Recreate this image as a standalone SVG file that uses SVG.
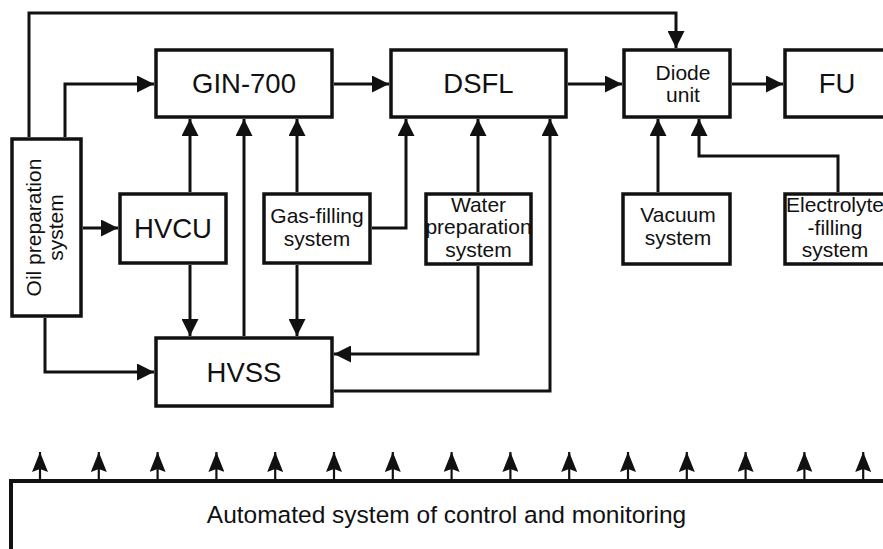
<svg xmlns="http://www.w3.org/2000/svg" width="883" height="549" viewBox="0 0 883 549">
<style>
.box{fill:#fff;stroke:#111;stroke-width:3.5}
.big{font-family:"Liberation Sans",Arial,sans-serif;font-size:27.5px;fill:#111;text-anchor:middle}
.sm{font-family:"Liberation Sans",Arial,sans-serif;font-size:21px;fill:#111;text-anchor:middle}
.con{fill:none;stroke:#111;stroke-width:3;marker-end:url(#ah)}
.plain{fill:none;stroke:#111;stroke-width:3}
.up{fill:none;stroke:#111;stroke-width:2.2;marker-end:url(#ah2)}
</style>
<defs>
<marker id="ah" viewBox="0 0 17 17" refX="17" refY="8.5" markerWidth="17" markerHeight="17" markerUnits="userSpaceOnUse" orient="auto">
<path d="M0,0 L17,8.5 L0,17 Z" fill="#111"/>
</marker>
<marker id="ah2" viewBox="0 0 20 16" refX="20" refY="8" markerWidth="20" markerHeight="16" markerUnits="userSpaceOnUse" orient="auto">
<path d="M0,0 L20,8 L0,16 L3,8 Z" fill="#111"/>
</marker>
</defs>
<rect width="883" height="549" fill="#fff"/>

<g id="connectors">
<path class="con" d="M29 137 V13 H676 V48"/>
<path class="con" d="M65 137 V84 H154"/>
<path class="con" d="M334 84 H389"/>
<path class="con" d="M568 84 H622"/>
<path class="con" d="M732 84 H783"/>
<path class="con" d="M190 192 V119"/>
<path class="con" d="M244 336 V119"/>
<path class="con" d="M297 192 V119"/>
<path class="con" d="M372 228 H406 V119"/>
<path class="con" d="M478 192 V119"/>
<path class="con" d="M334 391 H550 V119"/>
<path class="con" d="M658 192 V119"/>
<path class="con" d="M838 192 V156 H699 V119"/>
<path class="con" d="M83 228 H118"/>
<path class="con" d="M190 265 V336"/>
<path class="con" d="M297 265 V336"/>
<path class="con" d="M45 318 V372 H154"/>
<path class="con" d="M478 266 V354 H334"/>
<path class="up" d="M40 481 V452"/>
<path class="up" d="M98.8 481 V452"/>
<path class="up" d="M157.6 481 V452"/>
<path class="up" d="M216.4 481 V452"/>
<path class="up" d="M275.2 481 V452"/>
<path class="up" d="M334 481 V452"/>
<path class="up" d="M392.8 481 V452"/>
<path class="up" d="M451.6 481 V452"/>
<path class="up" d="M510.4 481 V452"/>
<path class="up" d="M569.2 481 V452"/>
<path class="up" d="M628 481 V452"/>
<path class="up" d="M686.8 481 V452"/>
<path class="up" d="M745.6 481 V452"/>
<path class="up" d="M804.4 481 V452"/>
<path class="up" d="M863.2 481 V452"/>
</g>

<g id="gin700">
<rect class="box" x="156" y="50" width="176" height="67"/>
<text class="big" x="244" y="93">GIN-700</text>
</g>
<g id="dsfl">
<rect class="box" x="391" y="50" width="175" height="67"/>
<text class="big" x="478.5" y="93">DSFL</text>
</g>
<g id="diode">
<rect class="box" x="624" y="50" width="106" height="67"/>
<text class="sm" x="683" y="80">Diode</text>
<text class="sm" x="683" y="102">unit</text>
</g>
<g id="fu">
<rect class="box" x="785" y="50" width="105" height="67"/>
<text class="big" x="837" y="93">FU</text>
</g>
<g id="oil">
<rect class="box" x="12" y="139" width="69" height="177"/>
<text class="sm" transform="translate(41,227.5) rotate(-90)">Oil preparation</text>
<text class="sm" transform="translate(63,227.5) rotate(-90)">system</text>
</g>
<g id="hvcu">
<rect class="box" x="120" y="194" width="106" height="69"/>
<text class="big" x="173" y="238">HVCU</text>
</g>
<g id="gas">
<rect class="box" x="264" y="194" width="106" height="69"/>
<text class="sm" x="317" y="223">Gas-filling</text>
<text class="sm" x="317" y="246">system</text>
</g>
<g id="water">
<rect class="box" x="426" y="194" width="105" height="70"/>
<text class="sm" x="478.5" y="212">Water</text>
<text class="sm" x="478.5" y="234">preparation</text>
<text class="sm" x="478.5" y="257">system</text>
</g>
<g id="vacuum">
<rect class="box" x="623" y="194" width="107" height="70"/>
<text class="sm" x="678" y="222">Vacuum</text>
<text class="sm" x="678" y="245">system</text>
</g>
<g id="electrolyte">
<rect class="box" x="785" y="194" width="105" height="70"/>
<text class="sm" x="835" y="212">Electrolyte</text>
<text class="sm" x="835" y="235">-filling</text>
<text class="sm" x="835" y="257">system</text>
</g>
<g id="hvss">
<rect class="box" x="156" y="338" width="176" height="68"/>
<text class="big" x="244" y="382">HVSS</text>
</g>
<g id="asm">
<path d="M11 549 V481 H883" fill="none" stroke="#111" stroke-width="4"/>
<text x="446.5" y="523" font-family="'Liberation Sans',Arial,sans-serif" font-size="24.5" fill="#111" text-anchor="middle">Automated system of control and monitoring</text>
</g>
</svg>
